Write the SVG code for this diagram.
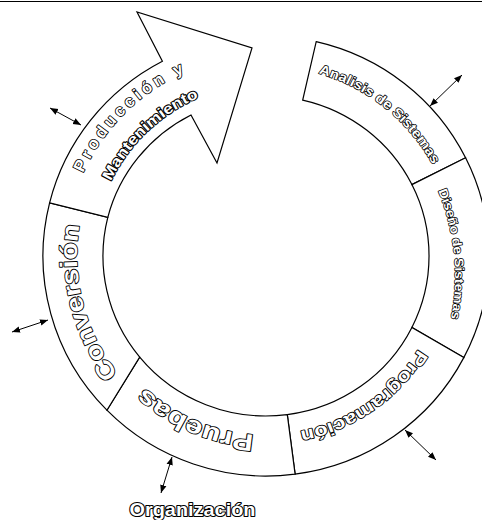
<svg xmlns="http://www.w3.org/2000/svg" width="482" height="520" viewBox="0 0 482 520">
<style>
.seg{fill:#fff;stroke:#000;stroke-width:1.2;stroke-linejoin:miter}
.lbl{font-family:"Liberation Sans",Arial,sans-serif;font-weight:bold;fill:#fff;stroke:#000;stroke-width:1.7;paint-order:stroke;stroke-linejoin:round}
.thin{stroke-width:1.5}
.heavy{stroke-width:2.1}
.con{stroke:#000;stroke-width:1;fill:none;marker-start:url(#ah);marker-end:url(#ah)}
</style>
<defs>
<marker id="ah" viewBox="0 0 10 10" refX="10" refY="5" markerWidth="8" markerHeight="8" markerUnits="userSpaceOnUse" orient="auto-start-reverse"><path d="M0,1 L10,5 L0,9 z" fill="#000"/></marker>
<path id="pA" d="M318.4,73.4 A190,190 0 0 1 433.8,166.8"/>
<path id="pD" d="M438.3,190.8 A224,224 0 0 1 450.5,320.8"/>
<path id="pP" d="M418.2,349.3 A178.5,178.5 0 0 1 297,431.8"/>
<path id="pR" d="M254.1,434.6 A179,179 0 0 1 142.6,385.6"/>
<path id="pC" d="M118.1,373.7 A189,189 0 0 1 80.3,220.9"/>
<path id="pY" d="M83.2,173.1 A201,201 0 0 1 187.1,71.1"/>
<path id="pM" d="M111,181.4 A172,172 0 0 1 200.5,97"/>
</defs>
<rect width="482" height="520" fill="#fff"/>
<line x1="0" y1="1.5" x2="482" y2="1.5" stroke="#000" stroke-width="1.2"/>
<g id="analisis">
<path class="seg" d="M316.2,41.6 A223,220 0 0 1 465.6,157.8 L411.9,184.6 A163,160 0 0 0 302.7,100.1 Z"/>
<text class="lbl thin" font-size="13.5"><textPath href="#pA" textLength="150" lengthAdjust="spacingAndGlyphs">Analisis de Sistemas</textPath></text>
</g>
<g id="diseno">
<path class="seg" d="M465.6,157.8 A223,220 0 0 1 463.8,357.6 L411.9,327.4 A163,160 0 0 0 411.9,184.6 Z"/>
<text class="lbl thin" font-size="12.5"><textPath href="#pD" textLength="130" lengthAdjust="spacingAndGlyphs">Diseño de Sistemas</textPath></text>
</g>
<g id="programacion">
<path class="seg" d="M463.8,357.6 A223,220 0 0 1 295.1,474.1 L287.3,414.6 A163,160 0 0 0 411.9,327.4 Z"/>
<text class="lbl" font-size="18"><textPath href="#pP" textLength="148" lengthAdjust="spacingAndGlyphs">Programación</textPath></text>
</g>
<g id="pruebas">
<path class="seg" d="M295.1,474.1 A223,220 0 0 1 106.9,410.2 L139.7,357.1 A163,160 0 0 0 287.3,414.6 Z"/>
<text class="lbl" font-size="24"><textPath href="#pR" textLength="121" lengthAdjust="spacingAndGlyphs">Pruebas</textPath></text>
</g>
<g id="conversion">
<path class="seg" d="M106.9,410.2 A223,220 0 0 1 49.6,202.8 L107.8,217.3 A163,160 0 0 0 139.7,357.1 Z"/>
<text class="lbl" font-size="24"><textPath href="#pC" textLength="158" lengthAdjust="spacingAndGlyphs">Conversión</textPath></text>
</g>
<g id="produccion">
<path class="seg" d="M49.6,202.8 A223,220 0 0 1 162.4,61.2 L137,12 L252,48 L217,163 L191,115 A163,160 0 0 0 107.8,217.3 Z"/>
<text class="lbl" font-size="16.5"><textPath href="#pY" textLength="146" lengthAdjust="spacing">Producción y</textPath></text>
<text class="lbl heavy" font-size="15"><textPath href="#pM" textLength="124" lengthAdjust="spacingAndGlyphs">Mantenimiento</textPath></text>
</g>
<g id="organizacion">
<text class="lbl heavy" x="192.5" y="516" font-size="19" text-anchor="middle" textLength="126" lengthAdjust="spacingAndGlyphs">Organización</text>
</g>
<g id="connectors">
<line class="con" x1="430" y1="106" x2="462" y2="75"/>
<line class="con" x1="50" y1="108" x2="81" y2="125"/>
<line class="con" x1="12" y1="332" x2="48" y2="320"/>
<line class="con" x1="161" y1="493" x2="172" y2="457"/>
<line class="con" x1="405" y1="430" x2="436" y2="460"/>
</g>
</svg>
